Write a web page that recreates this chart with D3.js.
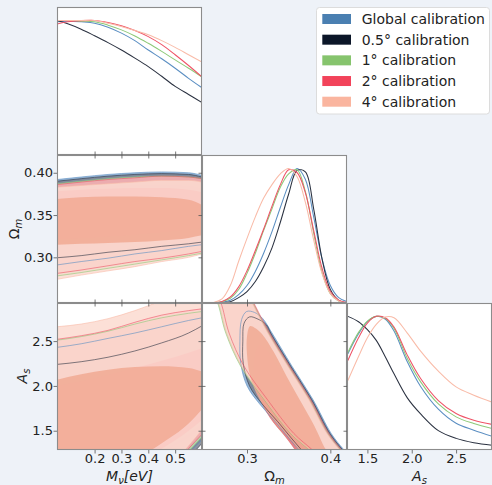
<!DOCTYPE html>
<html><head><meta charset="utf-8">
<script src="https://cdnjs.cloudflare.com/ajax/libs/d3/7.8.5/d3.min.js"></script>
<style>
html,body{margin:0;padding:0;background:#eef2f8;}
svg{display:block;}
text{font-family:"DejaVu Sans",sans-serif;fill:#222;}
</style></head><body>
<svg id="c" width="492" height="485"></svg>
<script>
// ---------------- series ----------------
const seriesNames = ["Global calibration","0.5° calibration","1° calibration","2° calibration","4° calibration"];
const seriesColor = ["#4a7fb1","#0b1628","#86c46d","#f2435a","#fab59f"];
const lineColor   = ["#5a8ec2","#2a3140","#8dc978","#ef5266","#f9bba8"];
const fill2Color  = ["#86a9cf","#7b8291","#c0e0b2","#f6a5af","#fbdad0"];
const fill1Color  = ["#5f8fbf","#3d4556","#a3d28e","#ee7080","#f1a993"];

// ---------------- ticks ----------------
const mnuTicks = [0.2,0.3,0.4,0.5];
const omTicksBottom = [0.3,0.4];
const omTicksLeft = [0.30,0.35,0.40];
const asTicks = [1.5,2.0,2.5];

// ---------------- 1D marginals ----------------
const mnuGrid = [0.06,0.1,0.15,0.2,0.25,0.3,0.35,0.4,0.45,0.5,0.55,0.6];
const mnuPdf = [
  [0.99,0.995,0.99,0.98,0.95,0.906,0.85,0.78,0.715,0.645,0.57,0.50],   // Global
  [1.0,0.975,0.935,0.886,0.835,0.78,0.72,0.657,0.585,0.51,0.45,0.39],   // 0.5°
  [1.0,1.0,0.995,0.99,0.965,0.93,0.885,0.83,0.77,0.707,0.645,0.58],     // 1°
  [0.973,0.99,0.998,1.0,0.985,0.96,0.925,0.88,0.82,0.745,0.665,0.58],   // 2°
  [1.0,1.0,1.0,1.0,0.98,0.955,0.925,0.893,0.85,0.80,0.745,0.69]         // 4°
];
const omGrid = [0.25,0.26,0.27,0.28,0.29,0.30,0.31,0.32,0.33,0.34,0.35,0.36,0.37,0.38,0.39,0.40,0.41,0.42];
const omPdf = [
  [0,0.001,0.005,0.02,0.062,0.13,0.235,0.37,0.53,0.71,0.88,1.0,0.92,0.64,0.33,0.13,0.04,0.01],  // Global
  [0,0,0.002,0.01,0.04,0.085,0.16,0.27,0.41,0.60,0.81,0.985,0.975,0.70,0.33,0.10,0.02,0],       // 0.5°
  [0,0.002,0.01,0.035,0.10,0.22,0.37,0.54,0.70,0.86,0.96,0.99,0.83,0.52,0.23,0.07,0.015,0],      // 1°
  [0,0.002,0.012,0.045,0.12,0.24,0.39,0.55,0.72,0.88,0.99,0.97,0.82,0.54,0.26,0.085,0.02,0.003], // 2°
  [0,0.004,0.03,0.13,0.31,0.48,0.64,0.78,0.88,0.96,1.0,0.94,0.75,0.47,0.22,0.07,0.015,0]         // 4°
];
const asGrid = [1.28,1.4,1.5,1.6,1.7,1.8,1.95,2.1,2.3,2.5,2.7,2.92];
const asPdf = [
  [0.72,0.87,0.96,1.0,0.98,0.89,0.66,0.475,0.305,0.20,0.148,0.10],     // Global
  [1.0,0.96,0.90,0.82,0.70,0.57,0.39,0.27,0.145,0.087,0.055,0.035],    // 0.5°
  [0.73,0.88,0.965,1.0,0.985,0.91,0.685,0.51,0.345,0.248,0.198,0.158], // 1°
  [0.67,0.84,0.95,1.0,0.99,0.92,0.71,0.535,0.37,0.273,0.222,0.19],     // 2°
  [0.52,0.70,0.84,0.94,0.995,0.99,0.875,0.74,0.59,0.472,0.41,0.355]    // 4°
];

// ---------------- 2D contours: Mnu vs Omega_m (bands) ----------------
const mGrid2 = [0.06,0.15,0.25,0.35,0.45,0.55,0.6];
const om2Lo = [
  [0.291,0.295,0.299,0.304,0.308,0.313,0.315],
  [0.2995,0.302,0.306,0.309,0.313,0.316,0.318],
  [0.278,0.282,0.287,0.292,0.297,0.302,0.305],
  [0.281,0.285,0.290,0.295,0.299,0.304,0.307],
  [0.274,0.279,0.284,0.289,0.295,0.300,0.304]
];
const om2Hi = [
  [0.392,0.395,0.398,0.400,0.401,0.400,0.397],
  [0.390,0.393,0.396,0.398,0.399,0.398,0.395],
  [0.387,0.390,0.393,0.395,0.396,0.395,0.393],
  [0.386,0.389,0.392,0.394,0.396,0.395,0.393],
  [0.383,0.385,0.387,0.389,0.391,0.391,0.389]
];
const om1Lo = [
  [0.330,0.331,0.332,0.334,0.336,0.338,0.340],
  [0.337,0.338,0.339,0.341,0.343,0.345,0.346],
  [0.325,0.326,0.327,0.329,0.331,0.334,0.336],
  [0.322,0.323,0.325,0.327,0.330,0.333,0.335],
  [0.315,0.316,0.317,0.318,0.320,0.323,0.326]
];
const om1Hi = [
  [0.380,0.382,0.384,0.385,0.385,0.384,0.381],
  [0.381,0.383,0.385,0.386,0.386,0.385,0.382],
  [0.378,0.380,0.381,0.382,0.382,0.380,0.377],
  [0.378,0.380,0.381,0.382,0.382,0.380,0.377],
  [0.369,0.371,0.372,0.372,0.371,0.368,0.362]
];

// ---------------- 2D contours: Mnu vs A_s (bands) ----------------
const as2Lo = [
  [0.6,0.65,0.72,0.82,0.98,1.25,1.40],
  [0.6,0.65,0.72,0.82,0.96,1.20,1.36],
  [0.6,0.65,0.72,0.83,0.99,1.27,1.43],
  [0.6,0.65,0.72,0.84,1.00,1.30,1.46],
  [0.6,0.65,0.73,0.85,1.02,1.33,1.51]
];
const as2Hi = [
  [2.43,2.47,2.53,2.59,2.66,2.73,2.76],
  [2.24,2.27,2.32,2.39,2.48,2.59,2.67],
  [2.51,2.55,2.61,2.69,2.76,2.81,2.83],
  [2.52,2.56,2.62,2.71,2.79,2.84,2.86],
  [2.66,2.69,2.75,2.84,2.95,3.05,3.10]
];
const as1Lo = [
  [0.9,0.95,1.03,1.13,1.27,1.45,1.56],
  [0.9,0.95,1.02,1.12,1.25,1.42,1.52],
  [0.9,0.95,1.03,1.14,1.28,1.47,1.59],
  [0.9,0.95,1.04,1.15,1.30,1.50,1.62],
  [0.9,0.96,1.06,1.18,1.36,1.58,1.74]
];
const as1Hi = [
  [1.95,2.00,2.06,2.13,2.21,2.30,2.35],
  [1.82,1.86,1.92,2.00,2.10,2.20,2.26],
  [2.00,2.05,2.11,2.18,2.26,2.34,2.39],
  [2.00,2.05,2.12,2.20,2.28,2.37,2.42],
  [2.07,2.13,2.18,2.21,2.22,2.20,2.16]
];

// ---------------- 2D contours: Omega_m vs A_s (closed outlines) ----------------
const omAs2 = [
  [[0.2995,2.83],[0.2935,2.74],[0.2915,2.5],[0.2925,2.25],[0.300,2.0],[0.315,1.8],[0.334,1.6],[0.350,1.42],[0.362,1.29],[0.375,1.15],[0.430,1.15],[0.416,1.29],[0.401,1.47],[0.379,1.85],[0.354,2.22],[0.330,2.59],[0.319,2.75],[0.309,2.82]],
  [[0.303,2.77],[0.2965,2.70],[0.295,2.5],[0.2955,2.25],[0.303,2.0],[0.318,1.8],[0.337,1.6],[0.353,1.42],[0.365,1.29],[0.378,1.15],[0.4285,1.15],[0.4145,1.29],[0.3995,1.47],[0.3775,1.85],[0.3525,2.22],[0.3285,2.59],[0.3235,2.68],[0.312,2.75]],
  [[0.257,3.05],[0.2645,2.93],[0.2745,2.59],[0.2924,2.22],[0.3203,1.85],[0.3522,1.47],[0.374,1.29],[0.389,1.15],[0.426,1.15],[0.412,1.29],[0.397,1.47],[0.375,1.85],[0.350,2.22],[0.326,2.59],[0.307,2.93],[0.301,3.05]],
  [[0.261,3.05],[0.2685,2.93],[0.2785,2.59],[0.2964,2.22],[0.3243,1.85],[0.3562,1.47],[0.378,1.29],[0.393,1.15],[0.427,1.15],[0.413,1.29],[0.398,1.47],[0.376,1.85],[0.351,2.22],[0.327,2.59],[0.308,2.93],[0.302,3.05]],
  [[0.258,3.05],[0.2655,2.93],[0.2755,2.59],[0.2934,2.22],[0.3213,1.85],[0.3532,1.47],[0.375,1.29],[0.390,1.15],[0.425,1.15],[0.411,1.29],[0.396,1.47],[0.374,1.85],[0.349,2.22],[0.325,2.59],[0.306,2.93],[0.300,3.05]]
];
const omAs1 = [
  [[0.322,2.30],[0.316,2.15],[0.318,1.95],[0.328,1.72],[0.345,1.48],[0.362,1.28],[0.378,1.10],[0.399,1.20],[0.391,1.40],[0.377,1.65],[0.360,1.92],[0.343,2.15],[0.330,2.28]],
  [[0.328,2.15],[0.322,2.00],[0.325,1.80],[0.337,1.58],[0.354,1.38],[0.367,1.20],[0.380,1.08],[0.399,1.20],[0.389,1.42],[0.373,1.70],[0.356,1.95],[0.339,2.10]],
  [[0.317,2.42],[0.310,2.28],[0.310,2.08],[0.315,1.88],[0.328,1.64],[0.348,1.41],[0.364,1.21],[0.376,1.10],[0.395,1.20],[0.387,1.40],[0.373,1.65],[0.355,1.95],[0.338,2.20],[0.326,2.36]],
  [[0.315,2.45],[0.309,2.30],[0.309,2.10],[0.314,1.90],[0.327,1.65],[0.347,1.42],[0.363,1.22],[0.375,1.10],[0.394,1.20],[0.386,1.40],[0.372,1.65],[0.354,1.95],[0.337,2.20],[0.325,2.38]],
  [[0.3035,2.665],[0.300,2.55],[0.300,2.35],[0.304,2.10],[0.315,1.85],[0.333,1.60],[0.354,1.38],[0.368,1.20],[0.380,1.10],[0.398,1.20],[0.391,1.35],[0.381,1.55],[0.366,1.80],[0.348,2.10],[0.332,2.38],[0.318,2.58],[0.309,2.65]]
];

// ---------------- layout ----------------
const svg = d3.select("#c");
const colX = [57,202,347,492];
const rowY = [7,155,303,450];

const xM = d3.scaleLinear([0.06,0.6],[colX[0],colX[1]]);
const xO = d3.scaleLinear([0.246,0.42],[colX[1],colX[2]]);
const xA = d3.scaleLinear([1.27,2.905],[colX[2],colX[3]]);
const yO = d3.scaleLinear([0.246,0.421],[rowY[2],rowY[1]]);
const yA = d3.scaleLinear([1.285,2.925],[rowY[3],rowY[2]]);
const yP = [0,1,2].map(r => d3.scaleLinear([0,1.1],[rowY[r+1],rowY[r]]));

function panel(r,c){
  const id = "clip"+r+c;
  svg.append("clipPath").attr("id",id).append("rect")
    .attr("x",colX[c]).attr("y",rowY[r]).attr("width",colX[c+1]-colX[c]).attr("height",rowY[r+1]-rowY[r]);
  svg.append("rect").attr("x",colX[c]).attr("y",rowY[r]).attr("width",colX[c+1]-colX[c]).attr("height",rowY[r+1]-rowY[r]).attr("fill","#fff");
  return svg.append("g").attr("clip-path","url(#"+id+")");
}
function frame(r,c){
  svg.append("rect").attr("x",colX[c]+0.5).attr("y",rowY[r]+0.5).attr("width",colX[c+1]-colX[c]-1).attr("height",rowY[r+1]-rowY[r]-1)
    .attr("fill","none").attr("stroke","#8c8c8c").attr("stroke-width",1.1);
}

function draw1D(g, xs, ys, grid, pdf){
  const line = d3.line().x((d,k)=>xs(grid[k])).y(d=>ys(d)).curve(d3.curveCatmullRom.alpha(0.5));
  pdf.forEach((vals,i)=>{
    g.append("path").attr("d",line(vals)).attr("fill","none").attr("stroke",lineColor[i]).attr("stroke-width",1.05);
  });
}

function drawBands(g, ys, lo2, hi2, lo1, hi1){
  const area = d3.area().x((d,k)=>xM(mGrid2[k])).y0(d=>ys(d[0])).y1(d=>ys(d[1])).curve(d3.curveMonotoneX);
  const line = d3.line().x((d,k)=>xM(mGrid2[k])).y(d=>ys(d)).curve(d3.curveMonotoneX);
  for(let i=0;i<5;i++){
    const b2 = lo2[i].map((v,k)=>[v,hi2[i][k]]);
    const b1 = lo1[i].map((v,k)=>[v,hi1[i][k]]);
    g.append("path").attr("d",area(b2)).attr("fill",fill2Color[i]).attr("fill-opacity",0.85);
    g.append("path").attr("d",area(b1)).attr("fill",fill1Color[i]).attr("fill-opacity",0.85);
  }
  for(let i=0;i<5;i++){
    [lo2[i],hi2[i]].forEach(arr=>{
      g.append("path").attr("d",line(arr)).attr("fill","none").attr("stroke",lineColor[i]).attr("stroke-width",0.8).attr("stroke-opacity",0.75);
    });
  }
}

function drawClosed(g, c2, c1){
  const line = d3.line().x(d=>xO(d[0])).y(d=>yA(d[1])).curve(d3.curveCatmullRomClosed.alpha(0.5));
  for(let i=0;i<5;i++){
    g.append("path").attr("d",line(c2[i])).attr("fill",fill2Color[i]).attr("fill-opacity",0.85);
    g.append("path").attr("d",line(c1[i])).attr("fill",fill1Color[i]).attr("fill-opacity",0.85);
  }
  for(let i=0;i<5;i++){
    g.append("path").attr("d",line(c2[i])).attr("fill","none").attr("stroke",lineColor[i]).attr("stroke-width",0.8).attr("stroke-opacity",0.75);
  }
}

const g00 = panel(0,0); draw1D(g00, xM, yP[0], mnuGrid, mnuPdf);
const g10 = panel(1,0); drawBands(g10, yO, om2Lo, om2Hi, om1Lo, om1Hi);
const g11 = panel(1,1); draw1D(g11, xO, yP[1], omGrid, omPdf);
const g20 = panel(2,0); drawBands(g20, yA, as2Lo, as2Hi, as1Lo, as1Hi);
const g21 = panel(2,1); drawClosed(g21, omAs2, omAs1);
const g22 = panel(2,2); draw1D(g22, xA, yP[2], asGrid, asPdf);
[[0,0],[1,0],[1,1],[2,0],[2,1],[2,2]].forEach(([r,c])=>frame(r,c));

// ---- ticks ----
const tickCol = "#555";
function ticks(axis, tr, labels, fmt){
  const a = svg.append("g").attr("transform",tr).call(axis.tickSizeOuter(0).tickPadding(0.5).tickFormat(labels?fmt:""));
  a.select(".domain").remove();
  a.selectAll(".tick line").attr("stroke",tickCol).attr("stroke-width",0.8);
  a.selectAll(".tick text").attr("font-size",13).attr("fill","#222").attr("font-family","DejaVu Sans");
  return a;
}
const f1 = d3.format(".1f"), f2 = d3.format(".2f");
ticks(d3.axisTop(xM).tickValues(mnuTicks).tickSize(3.5), `translate(0,${rowY[1]})`, false);
ticks(d3.axisLeft(yO).tickValues(omTicksLeft).tickSize(3.5), `translate(${colX[0]},0)`, true, f2);
ticks(d3.axisBottom(xM).tickValues(mnuTicks).tickSize(3.5), `translate(0,${rowY[1]})`, false);
ticks(d3.axisTop(xM).tickValues(mnuTicks).tickSize(3.5), `translate(0,${rowY[2]})`, false);
ticks(d3.axisLeft(yO).tickValues(omTicksLeft).tickSize(3.5), `translate(${colX[1]},0)`, false);
ticks(d3.axisTop(xO).tickValues(omTicksBottom).tickSize(3.5), `translate(0,${rowY[2]})`, false);
ticks(d3.axisLeft(yA).tickValues(asTicks).tickSize(3.5), `translate(${colX[0]},0)`, true, f1);
ticks(d3.axisBottom(xM).tickValues(mnuTicks).tickSize(3.5), `translate(0,${rowY[3]})`, true, f1);
ticks(d3.axisBottom(xM).tickValues(mnuTicks).tickSize(3.5), `translate(0,${rowY[2]})`, false);
ticks(d3.axisLeft(yA).tickValues(asTicks).tickSize(3.5), `translate(${colX[1]},0)`, false);
ticks(d3.axisRight(yA).tickValues(asTicks).tickSize(3.5), `translate(${colX[1]},0)`, false);
ticks(d3.axisBottom(xO).tickValues(omTicksBottom).tickSize(3.5), `translate(0,${rowY[3]})`, true, f1);
ticks(d3.axisBottom(xO).tickValues(omTicksBottom).tickSize(3.5), `translate(0,${rowY[2]})`, false);
ticks(d3.axisLeft(yA).tickValues(asTicks).tickSize(3.5), `translate(${colX[2]},0)`, false);
ticks(d3.axisBottom(xA).tickValues(asTicks).tickSize(3.5), `translate(0,${rowY[3]})`, true, f1);

// ---- axis labels ----
function mathLabel(x,y,rot,parts){
  const t = svg.append("text").attr("transform",`translate(${x},${y})`+(rot?` rotate(${rot})`:""))
    .attr("text-anchor","middle").attr("font-size",14).attr("fill","#222");
  parts.forEach(p=>{
    const ts = t.append("tspan").text(p.t);
    if(p.i) ts.attr("font-style","italic");
    if(p.s) ts.attr("font-size",10);
    if(p.dy) ts.attr("dy",p.dy);
  });
}
mathLabel(129.5,481,0,[{t:"M",i:1},{t:"ν",i:1,s:1,dy:3},{t:"[eV]",i:1,dy:-3}]);
mathLabel(274.5,481,0,[{t:"Ω"},{t:"m",i:1,s:1,dy:3}]);
mathLabel(419.5,481,0,[{t:"A",i:1},{t:"s",i:1,s:1,dy:3}]);
mathLabel(18.5,229,-90,[{t:"Ω"},{t:"m",i:1,s:1,dy:3}]);
mathLabel(26.5,376,-90,[{t:"A",i:1},{t:"s",i:1,s:1,dy:3}]);

// ---- legend ----
const lg = svg.append("g");
lg.append("rect").attr("x",316.5).attr("y",7.5).attr("width",173).attr("height",106.5).attr("rx",3)
  .attr("fill","#fff").attr("stroke","#dcdcdc").attr("stroke-width",1);
const legY = d3.scalePoint().domain(seriesNames).range([19,101.7]);
seriesNames.forEach((n,i)=>{
  lg.append("rect").attr("x",322.3).attr("y",legY(n)-5).attr("width",28.7).attr("height",10).attr("fill",seriesColor[i]);
  lg.append("text").attr("x",361.7).attr("y",legY(n)+5).attr("font-size",14).attr("fill","#222").text(n);
});
</script>
</body></html>
